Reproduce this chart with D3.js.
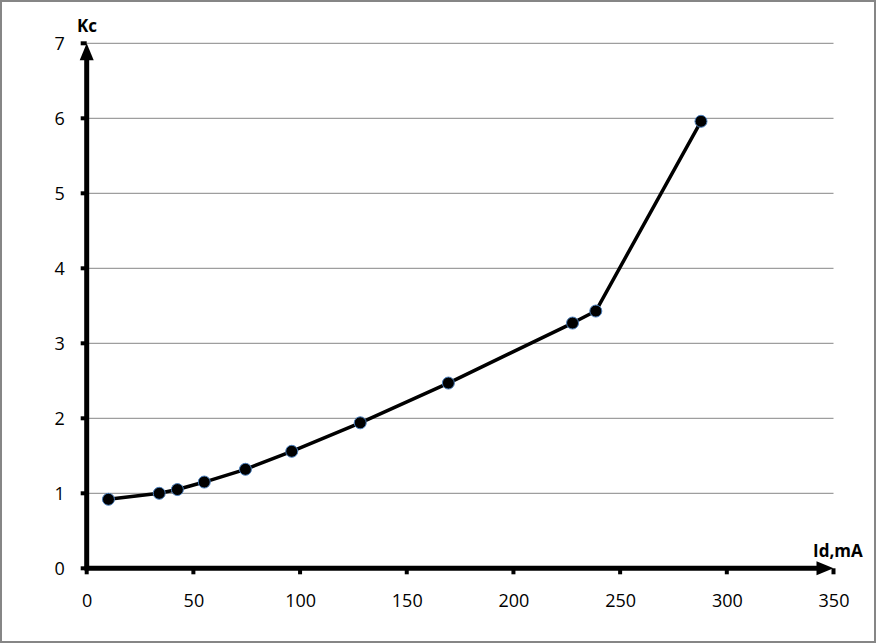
<!DOCTYPE html>
<html><head><meta charset="utf-8">
<script src="https://cdn.jsdelivr.net/npm/d3@7"></script>
<style>body{margin:0;background:#fff}svg{display:block}</style>
</head><body>
<script>
const xValues = [10.2, 34, 42.5, 55.1, 74.4, 96.1, 128.2, 169.5, 227.7, 238.6, 287.9];
const yValues = [0.92, 1.00, 1.05, 1.15, 1.32, 1.56, 1.94, 2.47, 3.27, 3.43, 5.96];
const xTicks = [0, 50, 100, 150, 200, 250, 300, 350];
const yTicks = [0, 1, 2, 3, 4, 5, 6, 7];
const xTitle = "Id,mA";
const yTitle = "Kc";

const W = 876, H = 643;
const svg = d3.select("body").append("svg").attr("width", W).attr("height", H);
svg.append("rect").attr("x", 1).attr("y", 1).attr("width", W - 2).attr("height", H - 2)
  .attr("fill", "#fff").attr("stroke", "#868686").attr("stroke-width", 2);

const x = d3.scaleLinear().domain([0, 350]).range([86.7, 833.5]);
const y = d3.scaleLinear().domain([0, 7]).range([568.3, 43.3]);
const font = "'Open Sans', 'Liberation Sans', sans-serif";

// gridlines
svg.append("g").selectAll("line").data(yTicks.filter(d => d > 0)).join("line")
  .attr("x1", x(0)).attr("x2", x(350)).attr("y1", d => y(d)).attr("y2", d => y(d))
  .attr("stroke", "#868686").attr("stroke-width", 1);

// y axis ticks & labels
const yAxis = d3.axisLeft(y).tickValues(yTicks).tickFormat(d3.format("d")).tickSize(0).tickPadding(22);
const gy = svg.append("g").attr("transform", `translate(${x(0)},0)`).call(yAxis);
gy.select(".domain").remove();
gy.selectAll("text").attr("font-family", font).attr("font-size", 18).attr("fill", "#000");
svg.append("g").selectAll("rect").data(yTicks).join("rect")
  .attr("x", x(0) - 6).attr("y", d => y(d) - 2).attr("width", 6).attr("height", 4).attr("fill", "#000");

// x axis ticks & labels
const xAxis = d3.axisBottom(x).tickValues(xTicks).tickFormat(d3.format("d")).tickSize(0).tickPadding(26);
const gx = svg.append("g").attr("transform", `translate(0,${y(0)})`).call(xAxis);
gx.select(".domain").remove();
gx.selectAll("text").attr("font-family", font).attr("font-size", 18).attr("fill", "#000");
svg.append("g").selectAll("rect").data(xTicks).join("rect")
  .attr("x", d => x(d) - 2).attr("y", y(0)).attr("width", 4).attr("height", 6).attr("fill", "#000");

// axis lines with arrows
svg.append("line").attr("x1", x(0) - 2).attr("x2", x(350) - 14).attr("y1", y(0)).attr("y2", y(0))
  .attr("stroke", "#000").attr("stroke-width", 5);
svg.append("path").attr("d", `M${x(350)},${y(0)} L${x(350) - 17},${y(0) - 7} L${x(350) - 17},${y(0) + 7} Z`).attr("fill", "#000");
svg.append("line").attr("x1", x(0)).attr("x2", x(0)).attr("y1", y(0) + 2).attr("y2", y(7) + 14)
  .attr("stroke", "#000").attr("stroke-width", 5);
svg.append("path").attr("d", `M${x(0)},${y(7)} L${x(0) - 7},${y(7) + 17} L${x(0) + 7},${y(7) + 17} Z`).attr("fill", "#000");

// titles
svg.append("text").attr("x", 77).attr("y", 32).text(yTitle)
  .attr("font-family", font).attr("font-size", 17).attr("font-weight", "bold");
svg.append("text").attr("x", 813).attr("y", 557).text(xTitle)
  .attr("font-family", font).attr("font-size", 17).attr("font-weight", "bold");

// data
const data = xValues.map((v, i) => [v, yValues[i]]);
svg.append("path").datum(data)
  .attr("d", d3.line().x(d => x(d[0])).y(d => y(d[1])))
  .attr("fill", "none").attr("stroke", "#000").attr("stroke-width", 3.5).attr("stroke-linejoin", "round");
svg.append("g").selectAll("circle").data(data).join("circle")
  .attr("cx", d => x(d[0])).attr("cy", d => y(d[1])).attr("r", 6)
  .attr("fill", "#000").attr("stroke", "#4a7ebb").attr("stroke-width", 1);
</script>
</body></html>
